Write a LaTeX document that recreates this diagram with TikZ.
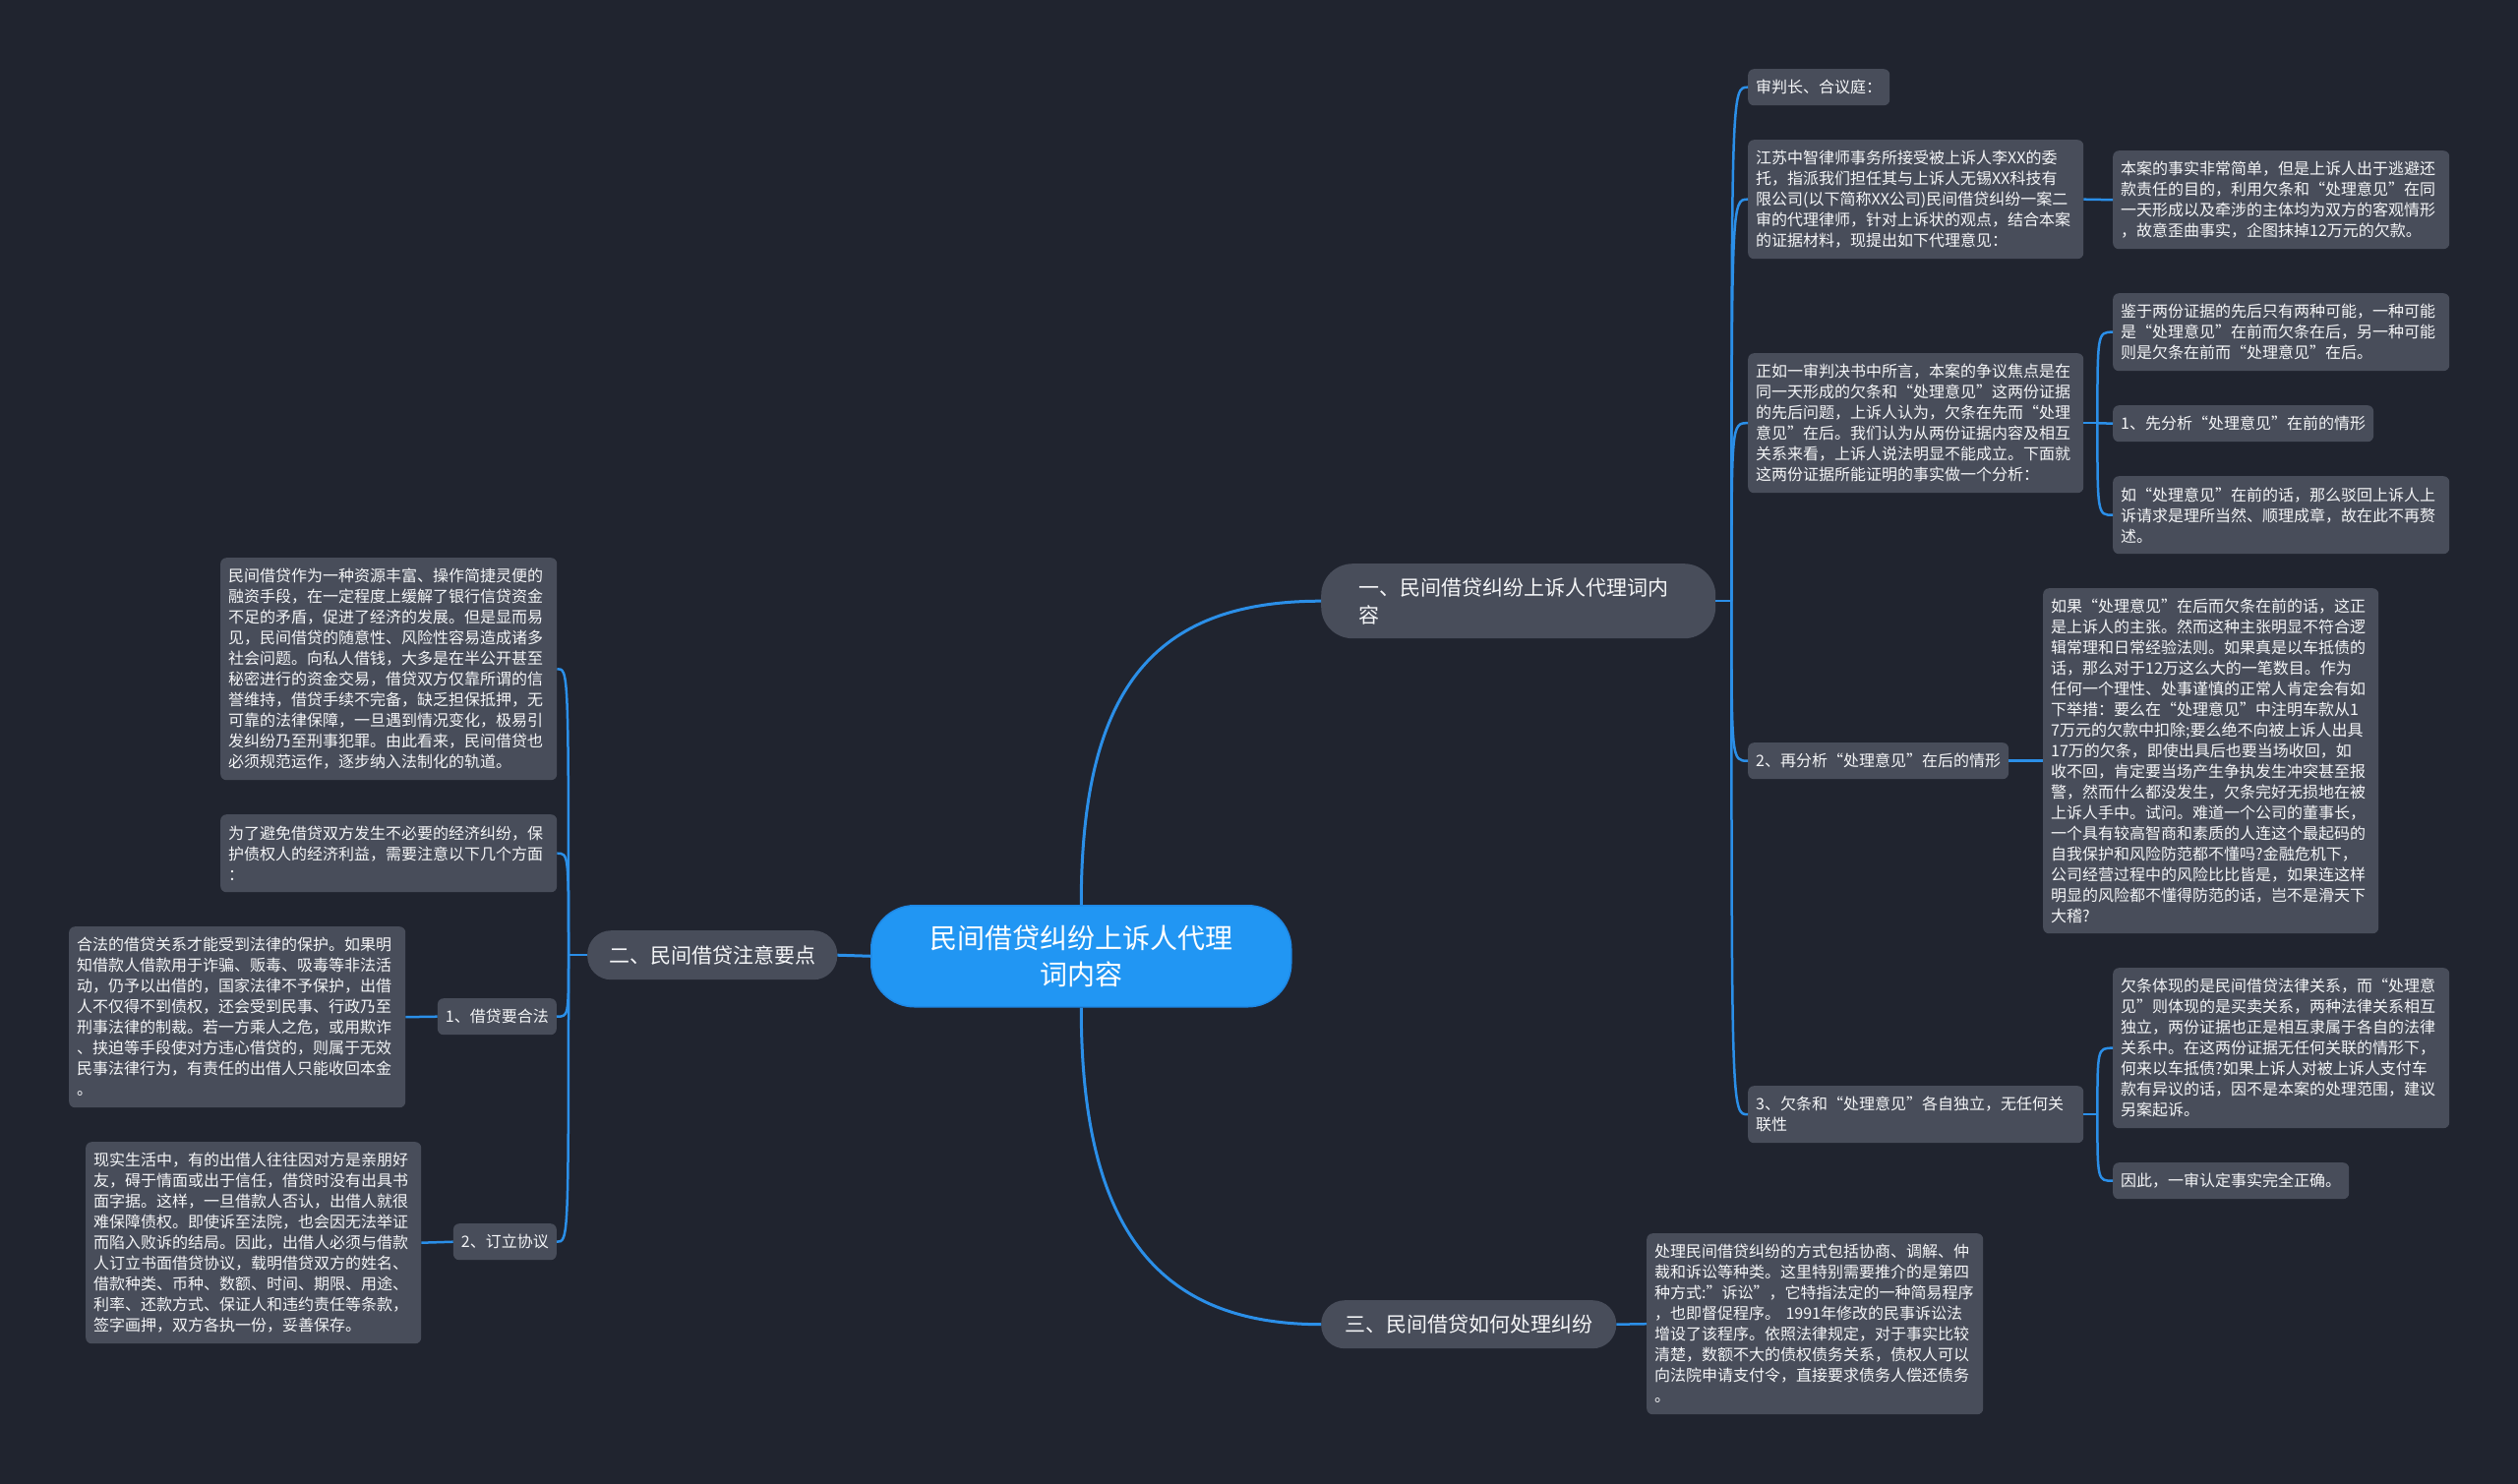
\documentclass[tikz,border=0pt]{standalone}
\usepackage{fontspec}
\setmainfont{Noto Sans CJK SC}
\usetikzlibrary{calc}
\definecolor{bgc}{HTML}{20242F}
\definecolor{boxc}{HTML}{484D5A}
\definecolor{centc}{HTML}{2196F3}
\definecolor{centb}{HTML}{1E88E5}
\definecolor{linec}{HTML}{2B8FE8}
\definecolor{txtc}{HTML}{F4F5F7}
\begin{document}
\begin{tikzpicture}[x=1pt,y=-1pt,
  leaf/.style={fill=boxc, rounded corners=6pt, anchor=north west, inner xsep=8pt, inner ysep=0pt, align=left, text=txtc, font=\fontsize{16}{21}\selectfont},
  branch/.style={fill=boxc, rounded corners=24pt, anchor=north west, inner ysep=0pt, text=txtc, font=\fontsize{21}{28}\selectfont},
  conn/.style={draw=linec, line width=2.5pt},
  mainconn/.style={draw=linec, line width=3pt}]
\useasboundingbox (0,0) rectangle (2560,1508);
\fill[bgc] (-20,-20) rectangle (2580,1528);

% central and branches
\node[fill=centc, draw=centb, line width=1.5pt, rounded corners=44pt, anchor=north west, minimum width=427pt, minimum height=103pt, inner ysep=0pt, text width=320pt, align=center, text=white, font=\fontsize{28}{37}\selectfont] (C) at (885,920) {民间借贷纠纷上诉人代理\\词内容};
\node[branch, rounded corners=32pt, text width=325pt, align=left, inner xsep=38pt, minimum height=76pt] (B1) at (1343,573) {一、民间借贷纠纷上诉人代理词内\\容};
\node[branch, minimum width=254pt, minimum height=50pt] (B2) at (597,946) {二、民间借贷注意要点};
\node[branch, minimum width=300pt, minimum height=49pt] (B3) at (1343,1322) {三、民间借贷如何处理纠纷};

% right side, level 2
\node[leaf, minimum height=37pt] (a1) at (1777,70) {审判长、合议庭：};
\node[leaf, text width=325pt, minimum height=121pt] (a2) at (1777,142) {江苏中智律师事务所接受被上诉人李XX的委\\托，指派我们担任其与上诉人无锡XX科技有\\限公司(以下简称XX公司)民间借贷纠纷一案二\\审的代理律师，针对上诉状的观点，结合本案\\的证据材料，现提出如下代理意见：};
\node[leaf, text width=325pt, minimum height=142pt] (a3) at (1777,359) {正如一审判决书中所言，本案的争议焦点是在\\同一天形成的欠条和“处理意见”这两份证据\\的先后问题，上诉人认为，欠条在先而“处理\\意见”在后。我们认为从两份证据内容及相互\\关系来看，上诉人说法明显不能成立。下面就\\这两份证据所能证明的事实做一个分析：};
\node[leaf, minimum height=37pt] (a4) at (1777,755) {2、再分析“处理意见”在后的情形};
\node[leaf, text width=325pt, minimum height=58pt] (a5) at (1777,1104) {3、欠条和“处理意见”各自独立，无任何关\\联性};

% right side, level 3
\node[leaf, text width=326pt, minimum height=100pt] (b1) at (2148,153) {本案的事实非常简单，但是上诉人出于逃避还\\款责任的目的，利用欠条和“处理意见”在同\\一天形成以及牵涉的主体均为双方的客观情形\\，故意歪曲事实，企图抹掉12万元的欠款。};
\node[leaf, text width=326pt, minimum height=79pt] (c1) at (2148,298) {鉴于两份证据的先后只有两种可能，一种可能\\是“处理意见”在前而欠条在后，另一种可能\\则是欠条在前而“处理意见”在后。};
\node[leaf, minimum height=37pt] (c2) at (2148,412) {1、先分析“处理意见”在前的情形};
\node[leaf, text width=326pt, minimum height=79pt] (c3) at (2148,484) {如“处理意见”在前的话，那么驳回上诉人上\\诉请求是理所当然、顺理成章，故在此不再赘\\述。};
\node[leaf, text width=325pt, minimum height=351pt] (d1) at (2077,598) {如果“处理意见”在后而欠条在前的话，这正\\是上诉人的主张。然而这种主张明显不符合逻\\辑常理和日常经验法则。如果真是以车抵债的\\话，那么对于12万这么大的一笔数目。作为\\任何一个理性、处事谨慎的正常人肯定会有如\\下举措：要么在“处理意见”中注明车款从1\\7万元的欠款中扣除;要么绝不向被上诉人出具\\17万的欠条，即使出具后也要当场收回，如\\收不回，肯定要当场产生争执发生冲突甚至报\\警，然而什么都没发生，欠条完好无损地在被\\上诉人手中。试问。难道一个公司的董事长，\\一个具有较高智商和素质的人连这个最起码的\\自我保护和风险防范都不懂吗?金融危机下，\\公司经营过程中的风险比比皆是，如果连这样\\明显的风险都不懂得防范的话，岂不是滑天下\\大稽?};
\node[leaf, text width=326pt, minimum height=163pt] (e1) at (2148,984) {欠条体现的是民间借贷法律关系，而“处理意\\见”则体现的是买卖关系，两种法律关系相互\\独立，两份证据也正是相互隶属于各自的法律\\关系中。在这两份证据无任何关联的情形下，\\何来以车抵债?如果上诉人对被上诉人支付车\\款有异议的话，因不是本案的处理范围，建议\\另案起诉。};
\node[leaf, minimum height=37pt] (e2) at (2148,1182) {因此，一审认定事实完全正确。};
\node[leaf, text width=326pt, minimum height=184pt] (f1) at (1674,1254) {处理民间借贷纠纷的方式包括协商、调解、仲\\裁和诉讼等种类。这里特别需要推介的是第四\\种方式:\symbol{"22}诉讼\symbol{"22}，它特指法定的一种简易程序\\，也即督促程序。 1991年修改的民事诉讼法\\增设了该程序。依照法律规定，对于事实比较\\清楚，数额不大的债权债务关系，债权人可以\\向法院申请支付令，直接要求债务人偿还债务\\。};

% left side
\node[leaf, text width=326pt, minimum height=226pt] (g1) at (224,567) {民间借贷作为一种资源丰富、操作简捷灵便的\\融资手段，在一定程度上缓解了银行信贷资金\\不足的矛盾，促进了经济的发展。但是显而易\\见，民间借贷的随意性、风险性容易造成诸多\\社会问题。向私人借钱，大多是在半公开甚至\\秘密进行的资金交易，借贷双方仅靠所谓的信\\誉维持，借贷手续不完备，缺乏担保抵押，无\\可靠的法律保障，一旦遇到情况变化，极易引\\发纠纷乃至刑事犯罪。由此看来，民间借贷也\\必须规范运作，逐步纳入法制化的轨道。};
\node[leaf, text width=326pt, minimum height=79pt] (g2) at (224,828) {为了避免借贷双方发生不必要的经济纠纷，保\\护债权人的经济利益，需要注意以下几个方面\\：};
\node[leaf, anchor=north east, minimum height=37pt] (g3) at (566,1015) {1、借贷要合法};
\node[leaf, anchor=north east, minimum height=37pt] (g4) at (566,1244) {2、订立协议};
\node[leaf, text width=326pt, minimum height=184pt] (h1) at (70,942) {合法的借贷关系才能受到法律的保护。如果明\\知借款人借款用于诈骗、贩毒、吸毒等非法活\\动，仍予以出借的，国家法律不予保护，出借\\人不仅得不到债权，还会受到民事、行政乃至\\刑事法律的制裁。若一方乘人之危，或用欺诈\\、挟迫等手段使对方违心借贷的，则属于无效\\民事法律行为，有责任的出借人只能收回本金\\。};
\node[leaf, text width=325pt, minimum height=205pt] (h2) at (87,1161) {现实生活中，有的出借人往往因对方是亲朋好\\友，碍于情面或出于信任，借贷时没有出具书\\面字据。这样，一旦借款人否认，出借人就很\\难保障债权。即使诉至法院，也会因无法举证\\而陷入败诉的结局。因此，出借人必须与借款\\人订立书面借贷协议，载明借贷双方的姓名、\\借款种类、币种、数额、时间、期限、用途、\\利率、还款方式、保证人和违约责任等条款，\\签字画押，双方各执一份，妥善保存。};

% main connectors
\draw[mainconn] (C.west) -- (B2.east);
\draw[mainconn] (C.north) .. controls +(0,-220) and +(-170,0) .. (B1.west);
\draw[mainconn] (C.south) .. controls +(0,220) and +(-170,0) .. (B3.west);

% branch one
\coordinate (s1) at ($(B1.east)+(16,0)$);
\draw[conn] (B1.east) -- (s1);
\draw[conn] (s1) .. controls (s1 |- a1.west) .. (a1.west);
\draw[conn] (s1) .. controls (s1 |- a2.west) .. (a2.west);
\draw[conn] (s1) .. controls (s1 |- a3.west) .. (a3.west);
\draw[conn] (s1) .. controls (s1 |- a4.west) .. (a4.west);
\draw[conn] (s1) .. controls (s1 |- a5.west) .. (a5.west);
\draw[conn] (a2.east) -- (b1.west);
\coordinate (s3) at ($(a3.east)+(14,0)$);
\draw[conn] (a3.east) -- (s3);
\draw[conn] (s3) .. controls (s3 |- c1.west) .. (c1.west);
\draw[conn] (s3) -- (c2.west);
\draw[conn] (s3) .. controls (s3 |- c3.west) .. (c3.west);
\draw[conn] (a4.east) -- (d1.west);
\coordinate (s5) at ($(a5.east)+(14,0)$);
\draw[conn] (a5.east) -- (s5);
\draw[conn] (s5) .. controls (s5 |- e1.west) .. (e1.west);
\draw[conn] (s5) .. controls (s5 |- e2.west) .. (e2.west);

% branch two
\coordinate (s2) at ($(B2.west)+(-19,0)$);
\draw[conn] (B2.west) -- (s2);
\draw[conn] (s2) .. controls (s2 |- g1.east) .. (g1.east);
\draw[conn] (s2) .. controls (s2 |- g2.east) .. (g2.east);
\draw[conn] (s2) .. controls (s2 |- g3.east) .. (g3.east);
\draw[conn] (s2) .. controls (s2 |- g4.east) .. (g4.east);
\draw[conn] (g3.west) -- (h1.east);
\draw[conn] (g4.west) -- (h2.east);

% branch three
\draw[conn] (B3.east) -- (f1.west);
\end{tikzpicture}
\end{document}
